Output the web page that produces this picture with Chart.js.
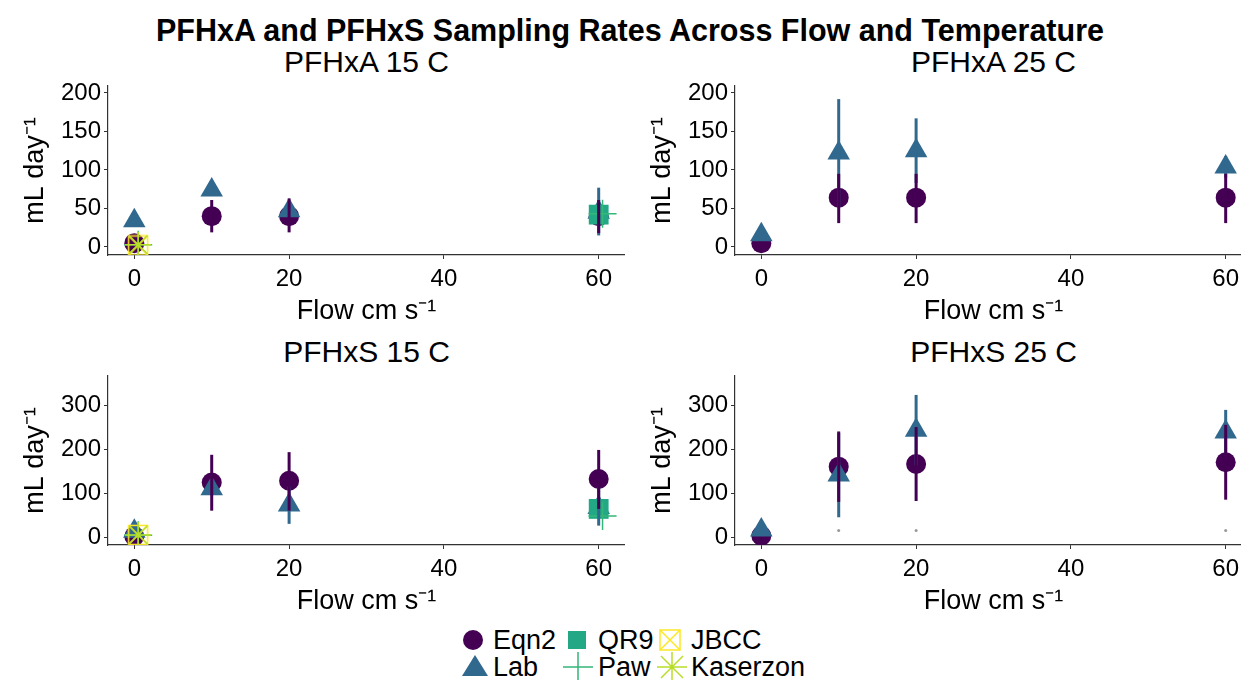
<!DOCTYPE html>
<html>
<head>
<meta charset="utf-8">
<script src="https://cdn.jsdelivr.net/npm/chart.js@4.4.0/dist/chart.umd.min.js"></script>
<style>
  body { margin: 0; width: 1241px; height: 680px; overflow: hidden; background: #fff;
         font-family: "Liberation Sans", Arial, sans-serif; color: #000; position: relative; }
  #title { position: absolute; left: 0; top: 12px; width: 1260px; text-align: center;
           font-weight: bold; font-size: 30.5px; line-height: 36px; }
  .ptitle { position: absolute; width: 517px; text-align: center; font-size: 30px; line-height: 36px; }
  canvas.panel { position: absolute; }
  .lg { position: absolute; font-size: 27px; line-height: 30px; white-space: nowrap; }
  .key { position: absolute; }
</style>
</head>
<body>
<div id="title">PFHxA and PFHxS Sampling Rates Across Flow and Temperature</div>
<div class="ptitle" style="left:108px; top:44px;" id="t0"></div>
<div class="ptitle" style="left:735px; top:44px;" id="t1"></div>
<div class="ptitle" style="left:108px; top:334px;" id="t2"></div>
<div class="ptitle" style="left:735px; top:334px;" id="t3"></div>

<canvas class="panel" id="p0" width="625" height="290" style="left:0; top:40px;"></canvas>
<canvas class="panel" id="p1" width="625" height="290" style="left:627px; top:40px;"></canvas>
<canvas class="panel" id="p2" width="625" height="290" style="left:0; top:330px;"></canvas>
<canvas class="panel" id="p3" width="625" height="290" style="left:627px; top:330px;"></canvas>

<!-- legend -->
<svg class="key" style="left:461px; top:628px;" width="24" height="24"><circle cx="12" cy="12" r="10" fill="#440154"/></svg>
<div class="lg" style="left:493px; top:625px;">Eqn2</div>
<svg class="key" style="left:565px; top:628px;" width="24" height="24"><rect x="3" y="3" width="18" height="18" fill="#22A884"/></svg>
<div class="lg" style="left:598px; top:625px;">QR9</div>
<svg class="key" style="left:658px; top:628px;" width="24" height="24">
  <g stroke="#FDE725" stroke-width="1.5" fill="none"><rect x="2" y="2" width="20" height="20"/><path d="M2 2L22 22M22 2L2 22"/></g></svg>
<div class="lg" style="left:691px; top:625px;">JBCC</div>
<svg class="key" style="left:462px; top:654px;" width="26" height="24"><polygon points="13,1 0,22 26,22" fill="#31688E"/></svg>
<div class="lg" style="left:493px; top:652px;">Lab</div>
<svg class="key" style="left:563px; top:652px;" width="30" height="30">
  <g stroke="#35B779" stroke-width="1.5"><path d="M0 15H30M15 0V30"/></g></svg>
<div class="lg" style="left:598px; top:652px;">Paw</div>
<svg class="key" style="left:657px; top:652px;" width="30" height="30">
  <g stroke="#B8DE29" stroke-width="1.5"><path d="M0 15H30M15 0V30M4 4L26 26M26 4L4 26"/></g></svg>
<div class="lg" style="left:691px; top:652px;">Kaserzon</div>

<script>
// flow values (cm/s) shared by all panels
const flow = [0, 10, 20, 60];
const sideFlow = [0.5, 10.5, 20.5, 60.5];
const xTicks = [0, 20, 40, 60];

// panel order: PFHxA 15 C, PFHxA 25 C, PFHxS 15 C, PFHxS 25 C
const panelTitles = ['PFHxA 15 C', 'PFHxA 25 C', 'PFHxS 15 C', 'PFHxS 25 C'];
const yTicks = [[0, 50, 100, 150, 200], [0, 50, 100, 150, 200], [0, 100, 200, 300], [0, 100, 200, 300]];
const yMin = [-10.4, -10.4, -18, -18];
const yMax = [209, 209, 366, 366];

// sampling rates, mL/day
const eqn2   = [[5, 40, 40, 40], [5, 64, 64, 64], [2, 124, 128, 132], [3, 160, 166, 170]];
const eqn2Lo = [[null, 19, 19, 18], [null, 31, 31, 31], [null, 60, 60, 64], [null, 80, 82, 85]];
const eqn2Hi = [[null, 61, 63, 61], [null, 95, 95, 95], [null, 187, 193, 198], [null, 240, 250, 255]];
const lab    = [[34, 74, 47, 45], [16, 122, 125, 104], [13, 110, 73, 67], [16, 141, 243, 239]];
const labLo  = [[null, 68, 40, 15], [null, 52, 83, 90], [null, 95, 30, 26], [null, 45, 163, 189]];
const labHi  = [[null, 80, 60, 77], [null, 192, 167, 118], [null, 125, 115, 115], [null, 237, 323, 289]];
const qr9    = [[null, null, null, 42], [null, null, null, null], [null, null, null, 64], [null, null, null, null]];
const paw    = [[3, null, null, 43], [null, null, null, null], [4, null, null, 48], [null, null, null, null]];
const jbcc   = [[2, null, null, null], [null, null, null, null], [5, null, null, null], [null, null, null, null]];
const kaserzon = [[3, null, null, null], [null, null, null, null], [5, null, null, null], [null, null, null, null]];
const minor  = [[null, null, null, null], [null, null, null, null], [null, null, null, null], [null, 15, 15, 15]];

Chart.defaults.font.family = '"Liberation Sans", Arial, sans-serif';
Chart.defaults.color = '#000';

function pts(xs, ys) {
    return ys.map((y, i) => (y == null ? null : { x: xs[i], y: y })).filter(p => p);
}

// square with an x through it, for JBCC
function boxX(color) {
    const c = document.createElement('canvas');
    c.width = 22; c.height = 22;
    const g = c.getContext('2d');
    g.strokeStyle = color; g.lineWidth = 1.5;
    g.strokeRect(1.5, 1.5, 19, 19);
    g.beginPath();
    g.moveTo(1.5, 1.5); g.lineTo(20.5, 20.5);
    g.moveTo(20.5, 1.5); g.lineTo(1.5, 20.5);
    g.stroke();
    return c;
}
const jbccIcon = boxX('#FDE725');

// vertical error bars drawn on top of the points
const errorBarPlugin = {
    id: 'errorBars',
    afterDatasetsDraw(chart, args, opts) {
        const { ctx, chartArea, scales: { x, y } } = chart;
        ctx.save();
        ctx.beginPath();
        ctx.rect(chartArea.left, chartArea.top, chartArea.width, chartArea.height);
        ctx.clip();
        opts.bars.forEach(b => {
            ctx.strokeStyle = b.color;
            ctx.lineWidth = 3;
            b.lo.forEach((lo, i) => {
                if (lo == null) return;
                const px = x.getPixelForValue(flow[i]);
                ctx.beginPath();
                ctx.moveTo(px, y.getPixelForValue(lo));
                ctx.lineTo(px, y.getPixelForValue(b.hi[i]));
                ctx.stroke();
            });
        });
        ctx.restore();
    }
};

function makePanel(k) {
    document.getElementById('t' + k).textContent = panelTitles[k];
    const ctx = document.getElementById('p' + k).getContext('2d');
    new Chart(ctx, {
        type: 'scatter',
        data: {
            datasets: [
                { label: 'Eqn2', order: 6, data: pts(flow, eqn2[k]), pointStyle: 'circle', pointRadius: 10,
                  backgroundColor: '#440154', borderWidth: 0 },
                { label: 'Lab', order: 5, data: pts(flow, lab[k]), pointStyle: 'triangle', pointRadius: 13,
                  backgroundColor: '#31688E', borderWidth: 0 },
                { label: 'QR9', order: 4, data: pts(flow, qr9[k]), pointStyle: 'rect', pointRadius: 14,
                  backgroundColor: '#22A884', borderWidth: 0 },
                { label: 'Paw', order: 3, data: pts(sideFlow, paw[k]), pointStyle: 'cross', pointRadius: 14,
                  borderColor: '#35B779', borderWidth: 1.5 },
                { label: 'JBCC', order: 2, data: pts(sideFlow, jbcc[k]), pointStyle: jbccIcon, pointRadius: 11 },
                { label: 'Kaserzon', order: 1, data: pts(sideFlow, kaserzon[k]), pointStyle: 'star', pointRadius: 13,
                  borderColor: '#B8DE29', borderWidth: 1.5 },
                { label: '', order: 7, data: pts(flow, minor[k]), pointStyle: 'circle', pointRadius: 1.5,
                  backgroundColor: '#999999', borderWidth: 0 }
            ]
        },
        options: {
            responsive: false,
            animation: false,
            events: [],
            layout: { autoPadding: false, padding: { top: 46, left: 0, right: 0, bottom: 0 } },
            plugins: {
                legend: { display: false },
                tooltip: { enabled: false },
                errorBars: {
                    bars: [
                        { lo: labLo[k], hi: labHi[k], color: '#31688E' },
                        { lo: eqn2Lo[k], hi: eqn2Hi[k], color: '#440154' }
                    ]
                }
            },
            scales: {
                x: {
                    type: 'linear', min: -3.4, max: 63.4,
                    afterBuildTicks: s => { s.ticks = xTicks.map(v => ({ value: v })); },
                    afterFit: s => { s.height = 75; s.paddingLeft = 0; s.paddingRight = 0; },
                    grid: { drawOnChartArea: false, tickLength: 4, color: '#333' },
                    border: { color: '#333', width: 1.2 },
                    ticks: { font: { size: 24 }, color: '#000', padding: 6, maxRotation: 0, autoSkip: false },
                    title: { display: true, text: 'Flow cm s\u207B\u00B9', font: { size: 27 }, color: '#000',
                             padding: { top: 0, bottom: 2 } }
                },
                y: {
                    type: 'linear', min: yMin[k], max: yMax[k],
                    afterBuildTicks: s => { s.ticks = yTicks[k].map(v => ({ value: v })); },
                    afterFit: s => { s.width = 108; },
                    grid: { drawOnChartArea: false, tickLength: 4, color: '#333' },
                    border: { color: '#333', width: 1.2 },
                    ticks: { font: { size: 24 }, color: '#000', padding: 3, autoSkip: false },
                    title: { display: true, text: 'mL day\u207B\u00B9', font: { size: 27 }, color: '#000',
                             padding: { top: 19, bottom: 0 } }
                }
            }
        },
        plugins: [errorBarPlugin]
    });
}

document.addEventListener('DOMContentLoaded', () => {
    for (let k = 0; k < 4; k++) makePanel(k);
});
</script>
</body>
</html>
